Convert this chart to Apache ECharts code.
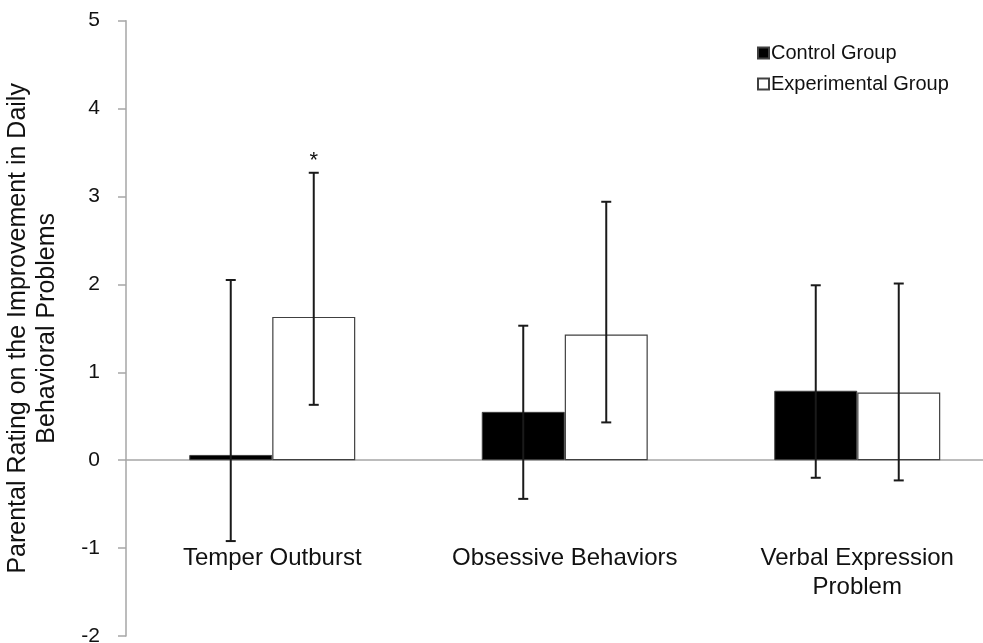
<!DOCTYPE html>
<html>
<head>
<meta charset="utf-8">
<script src="https://cdn.jsdelivr.net/npm/echarts@6/dist/echarts.min.js"></script>
<style>html,body{margin:0;padding:0;background:#fff;}#chart{width:983px;height:643px;}</style>
</head>
<body>
<div id="chart"></div>
<script>
var categories = ['Temper Outburst', 'Obsessive Behaviors', 'Verbal Expression\nProblem'];
var seriesNames = ['Control Group', 'Experimental Group'];
var controlMean = [0.06, 0.55, 0.79];
var controlLow = [-0.92, -0.44, -0.20];
var controlHigh = [2.05, 1.53, 1.99];
var experimentalMean = [1.63, 1.43, 0.77];
var experimentalLow = [0.63, 0.43, -0.23];
var experimentalHigh = [3.27, 2.94, 2.01];
var experimentalMarks = ['*', '', ''];
var yTicks = { min: -2, max: 5, interval: 1 };

var FONT = 'Liberation Sans, Arial, sans-serif';
var BAR_W = 83;

function errorSeries(name, lows, highs, marks, side) {
  var data = lows.map(function (lo, i) { return [i, lo, highs[i], marks ? marks[i] : '']; });
  return {
    type: 'custom',
    name: name + ' error',
    z: 5,
    silent: true,
    data: data,
    encode: { x: 0, y: [1, 2] },
    renderItem: function (params, api) {
      var c = api.value(0);
      var lo = api.coord([c, api.value(1)]);
      var hi = api.coord([c, api.value(2)]);
      var x = lo[0] + side * BAR_W / 2;
      var capHalf = 5;
      var st = { stroke: '#1a1a1a', lineWidth: 2 };
      var children = [
        { type: 'line', shape: { x1: x, y1: lo[1], x2: x, y2: hi[1] }, style: st },
        { type: 'line', shape: { x1: x - capHalf, y1: lo[1], x2: x + capHalf, y2: lo[1] }, style: st },
        { type: 'line', shape: { x1: x - capHalf, y1: hi[1], x2: x + capHalf, y2: hi[1] }, style: st }
      ];
      var mark = api.value(3);
      if (mark) {
        children.push({ type: 'text', style: { x: x, y: hi[1] - 1, text: mark, fill: '#111', font: '22px ' + FONT, align: 'center', verticalAlign: 'bottom' } });
      }
      return { type: 'group', children: children };
    }
  };
}

var chart = echarts.init(document.getElementById('chart'), null, { renderer: 'canvas' });
chart.setOption({
  animation: false,
  backgroundColor: '#fff',
  textStyle: { fontFamily: FONT },
  grid: { left: 126, top: 20.7, bottom: 7, right: -20.5, containLabel: false, outerBoundsMode: 'none' },
  legend: {
    orient: 'vertical',
    left: 752,
    top: 38,
    itemGap: 11,
    icon: 'rect',
    itemWidth: 11,
    itemHeight: 11,
    textStyle: { fontSize: 20, color: '#111', fontFamily: FONT, padding: [0, 0, 0, -3] },
    data: seriesNames
  },
  xAxis: {
    type: 'category',
    data: categories,
    axisLine: { onZero: true, lineStyle: { color: '#a6a6a6', width: 1.5 } },
    axisTick: { show: false },
    axisLabel: { margin: -92, fontSize: 24, lineHeight: 29, color: '#111', fontFamily: FONT, interval: 0 },
    splitLine: { show: false }
  },
  yAxis: {
    type: 'value',
    min: yTicks.min,
    max: yTicks.max,
    interval: yTicks.interval,
    name: 'Parental Rating on the Improvement in Daily\nBehavioral Problems',
    nameLocation: 'middle',
    nameRotate: 90,
    nameGap: 64,
    nameTextStyle: { fontSize: 25, lineHeight: 29, color: '#111', fontFamily: FONT },
    axisLine: { show: true, lineStyle: { color: '#a6a6a6', width: 1.5 } },
    axisTick: { show: true, inside: false, length: 8, lineStyle: { color: '#a6a6a6', width: 1.5 } },
    axisLabel: { margin: 26, fontSize: 21, color: '#111', fontFamily: FONT },
    splitLine: { show: false }
  },
  series: [
    {
      type: 'bar', name: seriesNames[0], data: controlMean, barWidth: BAR_W, barGap: '0%',
      itemStyle: { color: '#000', borderColor: '#404040', borderWidth: 1 }
    },
    {
      type: 'bar', name: seriesNames[1], data: experimentalMean, barWidth: BAR_W, barGap: '0%',
      itemStyle: { color: '#fff', borderColor: '#404040', borderWidth: 1.2 }
    },
    errorSeries(seriesNames[0], controlLow, controlHigh, null, -1),
    errorSeries(seriesNames[1], experimentalLow, experimentalHigh, experimentalMarks, 1)
  ]
});
</script>
</body>
</html>
